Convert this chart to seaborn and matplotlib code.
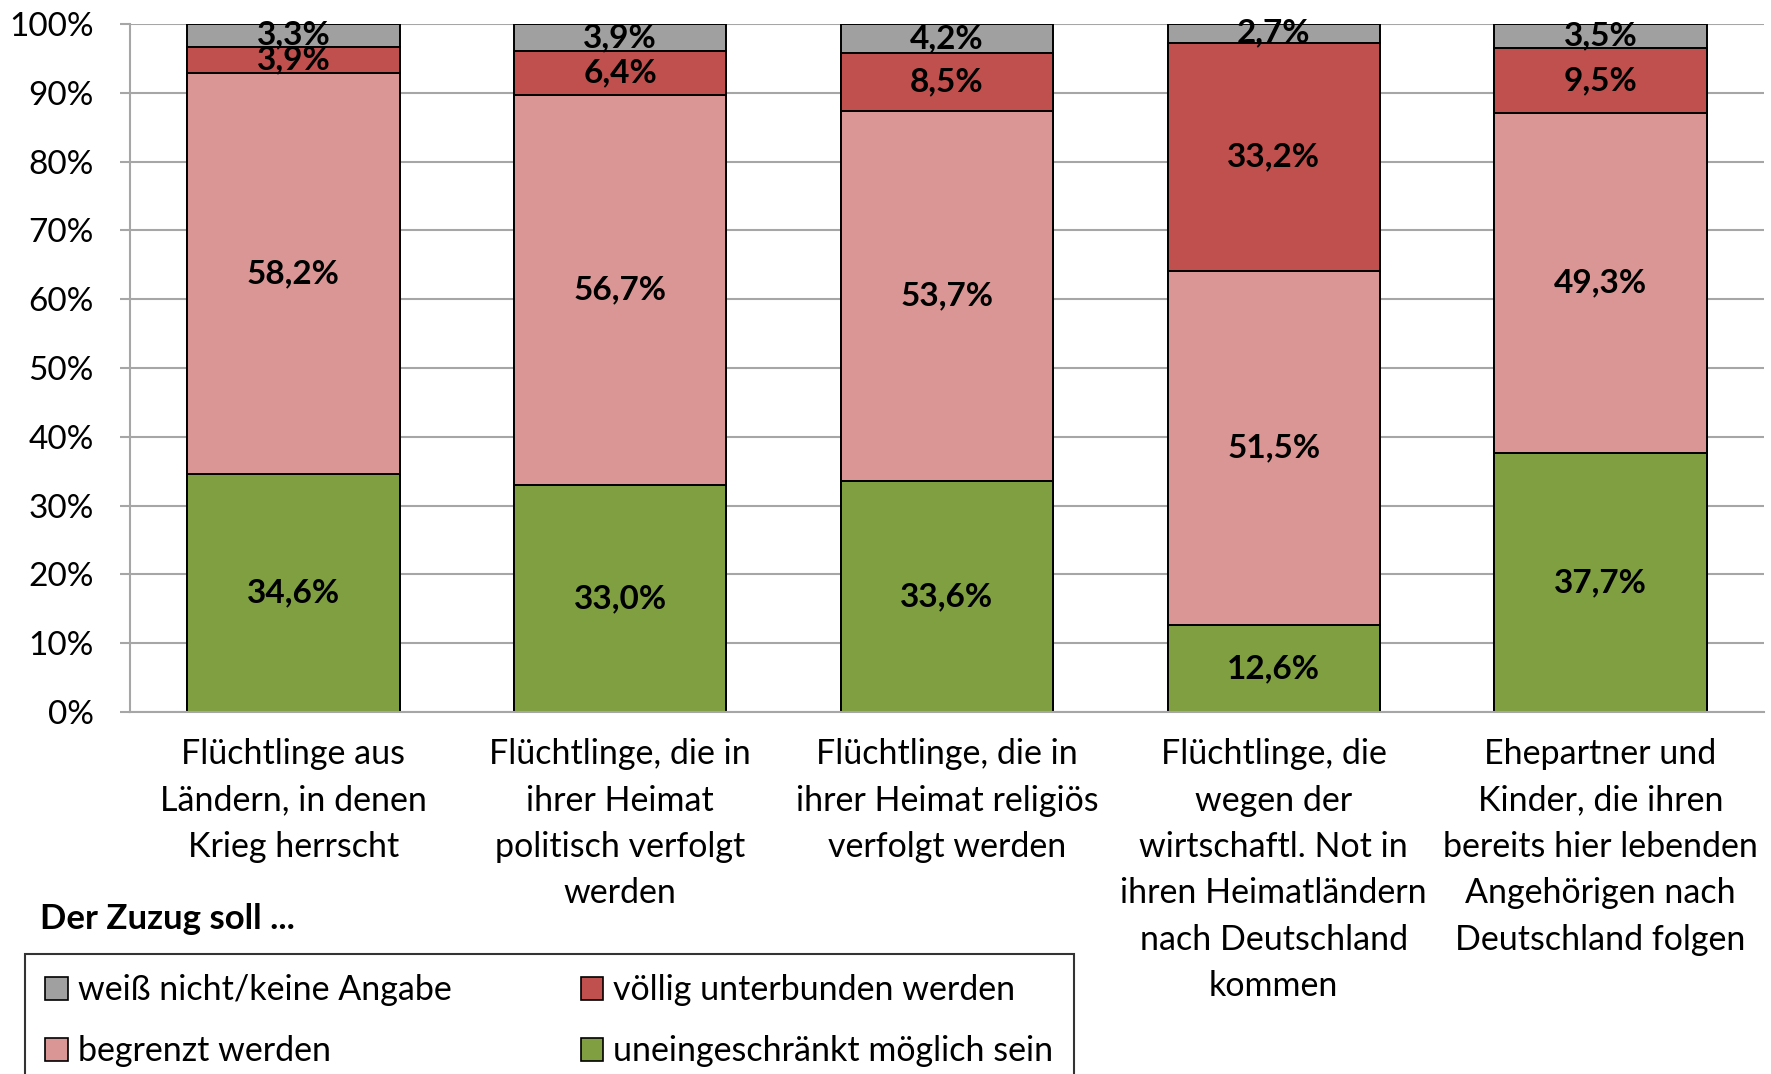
import numpy as np
import seaborn as sns
import matplotlib.pyplot as plt
from matplotlib.patches import Patch

# Kategorien (x-Achse)
categories = [
    "Flüchtlinge aus\nLändern, in denen\nKrieg herrscht",
    "Flüchtlinge, die in\nihrer Heimat\npolitisch verfolgt\nwerden",
    "Flüchtlinge, die in\nihrer Heimat religiös\nverfolgt werden",
    "Flüchtlinge, die\nwegen der\nwirtschaftl. Not in\nihren Heimatländern\nnach Deutschland\nkommen",
    "Ehepartner und\nKinder, die ihren\nbereits hier lebenden\nAngehörigen nach\nDeutschland folgen",
]

# Anteile in Prozent, von unten nach oben gestapelt
uneingeschraenkt = [34.6, 33.0, 33.6, 12.6, 37.7]
begrenzt = [58.2, 56.7, 53.7, 51.5, 49.3]
unterbunden = [3.9, 6.4, 8.5, 33.2, 9.5]
weiss_nicht = [3.3, 3.9, 4.2, 2.7, 3.5]

series_names = ["uneingeschränkt möglich sein", "begrenzt werden",
                "völlig unterbunden werden", "weiß nicht/keine Angabe"]
series_colors = ["#7F9F41", "#D99694", "#C0504D", "#A0A0A0"]
yticks = [0, 10, 20, 30, 40, 50, 60, 70, 80, 90, 100]

sns.set_style("white")
plt.rcParams['font.family'] = ['Lato', 'DejaVu Sans']
plt.rcParams['text.color'] = 'black'
plt.rcParams['xtick.labelcolor'] = 'black'
plt.rcParams['ytick.labelcolor'] = 'black'

fig = plt.figure(figsize=(17.71, 10.74), dpi=100)
ax = fig.add_axes([0.0734, 0.337, 0.9226, 0.6407])

values = np.array([uneingeschraenkt, begrenzt, unterbunden, weiss_nicht])
cum = np.cumsum(values, axis=0)

# classic seaborn stacking: draw cumulative totals from the top down
for i in reversed(range(len(series_names))):
    sns.barplot(x=categories, y=cum[i], color=series_colors[i], saturation=1,
                edgecolor="black", linewidth=1.4, width=0.65, errorbar=None, ax=ax)

for i in range(len(series_names)):
    for j in range(len(categories)):
        v = values[i, j]
        ax.text(j, cum[i, j] - v / 2, f"{v:.1f}%".replace(".", ","),
                ha="center", va="center", fontsize=24, fontweight="bold", color="black")

ax.set_xlim(-0.5, 4.5)
ax.set_ylim(0, 100)
ax.set_yticks(yticks)
ax.set_yticklabels([f"{t}%" for t in yticks])
ax.set_axisbelow(True)
ax.yaxis.grid(True, color="#A6A6A6", linewidth=1.5)
ax.xaxis.grid(False)
for s in ["top", "right"]:
    ax.spines[s].set_visible(False)
for s in ["left", "bottom"]:
    ax.spines[s].set_color("#A6A6A6")
    ax.spines[s].set_linewidth(1.5)

ax.set_xticks(np.arange(len(categories)))
ax.set_xticklabels(categories, linespacing=1.55)
ax.set_xticks(np.arange(-0.5, len(categories), 1.0), minor=True)
ax.tick_params(axis="x", which="major", length=0, pad=19, labelsize=24.5)
ax.tick_params(axis="x", which="minor", length=7, width=1.5, color="#A6A6A6", direction="out")
ax.tick_params(axis="y", length=7, width=1.5, color="#A6A6A6", pad=19, labelsize=24, direction="out", left=True)
ax.set_xlabel("")
ax.set_ylabel("")

handles = [Patch(facecolor=series_colors[k], edgecolor="black", linewidth=1.2) for k in [3, 1, 2, 0]]
labels = [series_names[k] for k in [3, 1, 2, 0]]
leg = fig.legend(handles, labels, ncol=2, loc="upper left", bbox_to_anchor=(0.0141, 0.1117),
                 borderaxespad=0, frameon=True, fancybox=False, edgecolor="black", fontsize=24.5,
                 handlelength=0.65, handleheight=0.65, handletextpad=0.3,
                 columnspacing=3.8, borderpad=0.6, labelspacing=0.85)
leg.get_frame().set_linewidth(1.5)

fig.text(40 / 1771, 1 - 919 / 1074, "Der Zuzug soll ...", fontsize=25,
         fontweight="bold", va="center", ha="left")

fig.savefig("out.png", dpi=100)
